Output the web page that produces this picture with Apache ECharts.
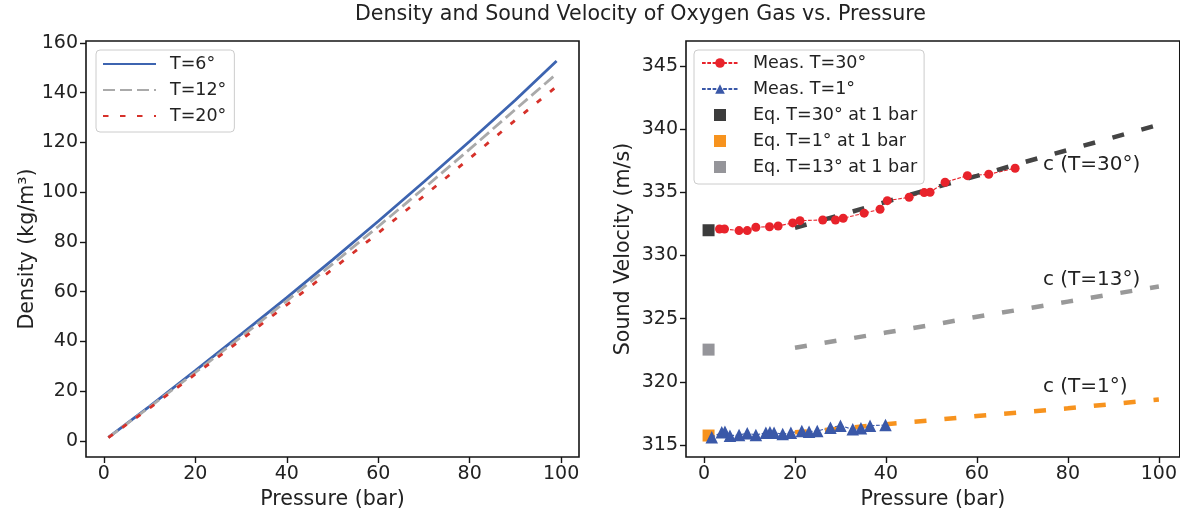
<!DOCTYPE html>
<html>
<head>
<meta charset="utf-8">
<script src="https://cdn.jsdelivr.net/npm/echarts@6/dist/echarts.min.js"></script>
<style>
  html, body { margin: 0; padding: 0; background: #fff; }
  #chart { width: 1180px; height: 516px; }
</style>
</head>
<body>
<div id="chart"></div>
<script>
// left panel: density vs pressure
const pressure = [1, 10, 20, 30, 40, 50, 60, 70, 80, 90, 99]
const rhoT6 = [1.38, 13.9, 28.2, 42.8, 57.6, 72.8, 88.3, 104.2, 120.5, 137.1, 152.8]
const rhoT12 = [1.35, 13.6, 27.5, 41.8, 56.3, 71.1, 86.2, 101.6, 117.3, 133.3, 147.6]
const rhoT20 = [1.31, 13.2, 26.8, 40.6, 54.7, 69.0, 83.6, 98.5, 113.6, 129.0, 142.5]

// right panel: measured sound velocity
const measP30 = [3.4, 4.5, 7.7, 9.5, 11.4, 14.4, 16.3, 19.5, 21.1, 26.1, 28.9, 30.6, 35.2, 38.7, 40.3, 45.1, 48.4, 49.7, 53.0, 57.9, 62.6, 68.4]
const measC30 = [332.1, 332.1, 331.97, 331.97, 332.24, 332.28, 332.34, 332.58, 332.76, 332.81, 332.81, 332.95, 333.35, 333.66, 334.34, 334.61, 334.98, 335.01, 335.8, 336.32, 336.43, 336.91]
const measP1 = [1.7, 3.9, 4.6, 5.7, 7.7, 9.5, 11.4, 13.6, 14.5, 15.4, 17.3, 19.1, 21.5, 23.1, 24.9, 27.8, 30.0, 32.7, 34.5, 36.5, 39.9]
const measC1 = [315.61, 316.0, 316.05, 315.74, 315.79, 315.93, 315.79, 315.97, 316.0, 315.97, 315.87, 315.97, 316.11, 316.05, 316.11, 316.37, 316.53, 316.24, 316.32, 316.53, 316.58]

// model curves
const modelP = [20, 30, 40, 50, 60, 70, 80, 90, 100]
const modelC30 = [332.2, 333.2, 334.25, 335.3, 336.3, 337.35, 338.35, 339.35, 340.35]
const modelC13 = [322.7, 323.3, 323.9, 324.5, 325.15, 325.75, 326.35, 326.95, 327.55]
const modelC1 = [316.0, 316.3, 316.65, 316.95, 317.3, 317.6, 317.9, 318.25, 318.6]

// equilibrium values at 1 bar
const eqP = 1
const eqC30 = 332.0
const eqC1 = 315.75
const eqC13 = 322.55

const curveLabelP = 74.5
const curveLabelC = [337.2, 328.1, 319.6]
const curveLabelText = ['c (T=30°)', 'c (T=13°)', 'c (T=1°)']

const xTicks = [0, 20, 40, 60, 80, 100]
const densityTicks = [0, 20, 40, 60, 80, 100, 120, 140, 160]
const velocityTicks = [315, 320, 325, 330, 335, 340, 345]

const FONT = 'DejaVu Sans'
const INK = '#222222'
const SPINE = '#151515'

const zip = (xs, ys) => xs.map((x, i) => [x, ys[i]])

function valueAxis(opt) {
  return Object.assign({
    type: 'value',
    nameLocation: 'middle',
    nameTextStyle: { fontFamily: FONT, fontSize: 20.6, color: INK },
    axisLine: { show: false, onZero: false },
    axisTick: { show: true, inside: false, length: 6, lineStyle: { color: SPINE, width: 1.4 }, customValues: opt.ticks },
    axisLabel: { fontFamily: FONT, fontSize: 19, color: INK, customValues: opt.ticks },
    splitLine: { show: false }
  }, opt.extra)
}

const chart = echarts.init(document.getElementById('chart'))
chart.setOption({
  animation: false,
  backgroundColor: '#fff',
  title: {
    text: 'Density and Sound Velocity of Oxygen Gas vs. Pressure',
    left: 355,
    top: 4,
    padding: 0,
    textStyle: { fontFamily: FONT, fontSize: 20.6, fontWeight: 'normal', color: INK }
  },
  grid: [
    { left: 86, top: 41, width: 493, height: 416, show: true, borderColor: SPINE, borderWidth: 1.6, backgroundColor: 'transparent' },
    { left: 686, top: 41, right: 0, height: 416, show: true, borderColor: SPINE, borderWidth: 1.6, backgroundColor: 'transparent' }
  ],
  xAxis: [
    valueAxis({ ticks: xTicks, extra: { gridIndex: 0, min: -3.9, max: 103.9, name: 'Pressure (bar)', nameGap: 27 } }),
    valueAxis({ ticks: xTicks, extra: { gridIndex: 1, min: -3.96, max: 104.6, name: 'Pressure (bar)', nameGap: 27 } })
  ],
  yAxis: [
    valueAxis({ ticks: densityTicks, extra: { gridIndex: 0, min: -6.5, max: 160.8, name: 'Density (kg/m³)', nameGap: 46 } }),
    valueAxis({ ticks: velocityTicks, extra: { gridIndex: 1, min: 314.05, max: 346.98, name: 'Sound Velocity (m/s)', nameGap: 52 } })
  ],
  legend: [
    {
      data: ['T=6°', 'T=12°', 'T=20°'],
      orient: 'vertical',
      left: 96, top: 50,
      padding: [4, 8, 6, 6],
      itemWidth: 53, itemHeight: 14, itemGap: 6,
      borderColor: '#cccccc', borderWidth: 1, borderRadius: 4,
      backgroundColor: 'rgba(255,255,255,0.8)',
      itemStyle: { opacity: 0 },
      textStyle: { fontFamily: FONT, fontSize: 17.5, color: INK, lineHeight: 20, padding: [0, 0, 0, 9] }
    },
    {
      data: [
        { name: 'Meas. T=30°' },
        { name: 'Meas. T=1°' },
        { name: 'Eq. T=30° at 1 bar', icon: 'path://M0,0h10v10h-10z' },
        { name: 'Eq. T=1° at 1 bar', icon: 'path://M0,0h10v10h-10z' },
        { name: 'Eq. T=13° at 1 bar', icon: 'path://M0,0h10v10h-10z' }
      ],
      orient: 'vertical',
      left: 694, top: 50,
      padding: [3, 7, 7, 7],
      itemWidth: 36, itemHeight: 12, itemGap: 6,
      borderColor: '#cccccc', borderWidth: 1, borderRadius: 4,
      backgroundColor: 'rgba(255,255,255,0.8)',
      itemStyle: { opacity: 1 },
      textStyle: { fontFamily: FONT, fontSize: 17.5, color: INK, lineHeight: 20, padding: [0, 0, 0, 10] }
    }
  ],
  series: [
    {
      name: 'T=6°', type: 'line', xAxisIndex: 0, yAxisIndex: 0, symbol: 'none',
      data: zip(pressure, rhoT6),
      lineStyle: { color: '#3d64b0', width: 2.8 }, itemStyle: { color: '#3d64b0' }
    },
    {
      name: 'T=12°', type: 'line', xAxisIndex: 0, yAxisIndex: 0, symbol: 'none',
      data: zip(pressure, rhoT12),
      lineStyle: { color: '#aaaaaa', width: 2.8, type: [12, 5] }, itemStyle: { color: '#aaaaaa' }
    },
    {
      name: 'T=20°', type: 'line', xAxisIndex: 0, yAxisIndex: 0, symbol: 'none',
      data: zip(pressure, rhoT20),
      lineStyle: { color: '#d6312a', width: 2.8, type: [5.5, 11.5] }, itemStyle: { color: '#d6312a' }
    },
    {
      name: 'Meas. T=30°', type: 'line', xAxisIndex: 1, yAxisIndex: 1,
      symbol: 'circle', symbolSize: 9,
      data: zip(measP30, measC30),
      lineStyle: { color: '#e8232b', width: 1.1, type: [3.7, 1.6] },
      itemStyle: { color: '#e8232b' }
    },
    {
      name: 'Meas. T=1°', type: 'line', xAxisIndex: 1, yAxisIndex: 1,
      symbol: 'triangle', symbolSize: 12.5,
      data: zip(measP1, measC1),
      lineStyle: { color: '#3a58a8', width: 1.1, type: [3.7, 1.6] },
      itemStyle: { color: '#3a58a8' }
    },
    {
      name: 'c30', type: 'line', xAxisIndex: 1, yAxisIndex: 1, symbol: 'none',
      data: zip(modelP, modelC30),
      lineStyle: { color: '#444444', width: 4.5, type: [12, 18], cap: 'butt' }
    },
    {
      name: 'c13', type: 'line', xAxisIndex: 1, yAxisIndex: 1, symbol: 'none',
      data: zip(modelP, modelC13),
      lineStyle: { color: '#999999', width: 4.5, type: [12, 18], cap: 'butt' }
    },
    {
      name: 'c1', type: 'line', xAxisIndex: 1, yAxisIndex: 1, symbol: 'none',
      data: zip(modelP, modelC1),
      lineStyle: { color: '#f7931e', width: 4.5, type: [12, 18], cap: 'butt' }
    },
    {
      name: 'Eq. T=30° at 1 bar', type: 'scatter', xAxisIndex: 1, yAxisIndex: 1,
      symbol: 'rect', symbolSize: 12, data: [[eqP, eqC30]], itemStyle: { color: '#3c3c3c', opacity: 1 }
    },
    {
      name: 'Eq. T=1° at 1 bar', type: 'scatter', xAxisIndex: 1, yAxisIndex: 1,
      symbol: 'rect', symbolSize: 12, data: [[eqP, eqC1]], itemStyle: { color: '#f7931e', opacity: 1 }
    },
    {
      name: 'Eq. T=13° at 1 bar', type: 'scatter', xAxisIndex: 1, yAxisIndex: 1,
      symbol: 'rect', symbolSize: 12, data: [[eqP, eqC13]], itemStyle: { color: '#95959a', opacity: 1 }
    },
    {
      name: 'curve labels', type: 'scatter', xAxisIndex: 1, yAxisIndex: 1,
      symbolSize: 0, silent: true,
      itemStyle: { opacity: 1 },
      data: curveLabelC.map((c, i) => [curveLabelP, c, curveLabelText[i]]),
      label: {
        show: true, position: 'right', distance: 0,
        formatter: p => p.value[2],
        fontFamily: FONT, fontSize: 20, color: INK
      }
    }
  ]
})
</script>
</body>
</html>
